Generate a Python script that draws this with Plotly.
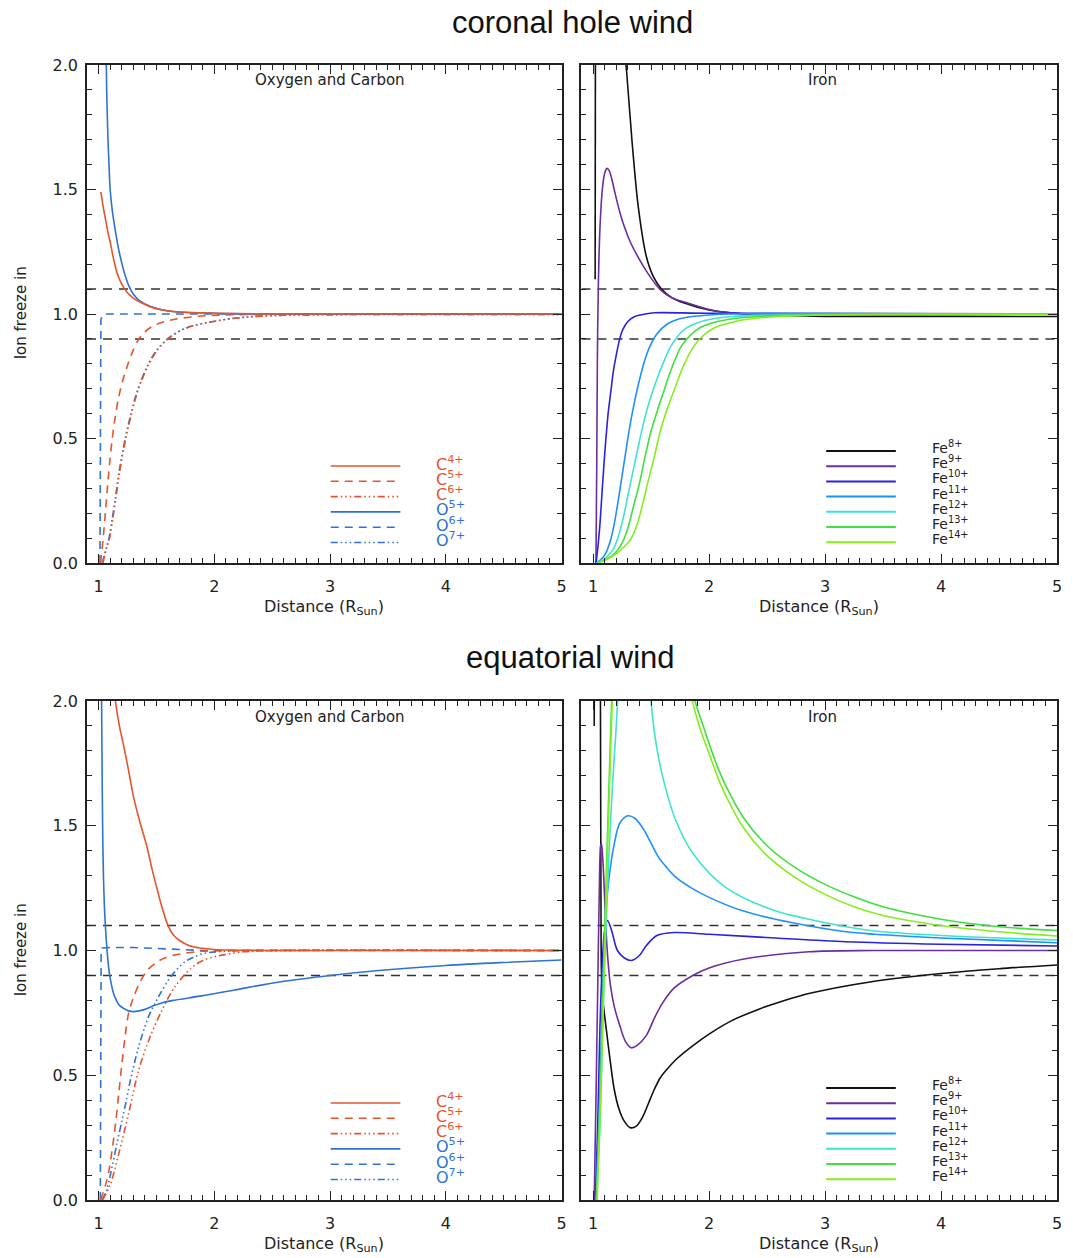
import plotly.graph_objects as go

# ---------------- data ----------------
X_RANGE = [0.9, 5.0]
Y_RANGE = [0.0, 2.0]
X_TICK0, X_DTICK = 1, 1
Y_TICK0, Y_DTICK = 0.0, 0.5
THRESHOLDS = [0.9, 1.1]

OC_LABELS = ["C<sup>4+</sup>", "C<sup>5+</sup>", "C<sup>6+</sup>",
             "O<sup>5+</sup>", "O<sup>6+</sup>", "O<sup>7+</sup>"]
FE_LABELS = ["Fe<sup>8+</sup>", "Fe<sup>9+</sup>", "Fe<sup>10+</sup>", "Fe<sup>11+</sup>",
             "Fe<sup>12+</sup>", "Fe<sup>13+</sup>", "Fe<sup>14+</sup>"]

# --- coronal hole wind: oxygen and carbon ---
CH_C4_X = [1.02, 1.04, 1.06, 1.08, 1.10, 1.13, 1.16, 1.20, 1.25, 1.30, 1.37, 1.45, 1.55, 1.70, 2.0, 2.5, 5.0]
CH_C4_Y = [1.49, 1.43, 1.38, 1.33, 1.29, 1.22, 1.165, 1.12, 1.085, 1.064, 1.045, 1.028, 1.016, 1.008, 1.003, 1.0, 1.0]
CH_C5_X = [1.017, 1.04, 1.06, 1.075, 1.095, 1.117, 1.145, 1.175, 1.21, 1.246, 1.29, 1.346, 1.40, 1.46, 1.55, 1.66, 1.89, 2.3, 5.0]
CH_C5_Y = [0.0, 0.10, 0.21, 0.293, 0.40, 0.494, 0.59, 0.668, 0.735, 0.788, 0.845, 0.898, 0.928, 0.949, 0.967, 0.979, 0.992, 0.998, 1.0]
CH_C6_X = [1.037, 1.07, 1.095, 1.12, 1.15, 1.18, 1.235, 1.28, 1.325, 1.37, 1.425, 1.50, 1.60, 1.75, 1.98, 2.26, 2.6, 5.0]
CH_C6_Y = [0.0, 0.06, 0.10, 0.17, 0.26, 0.36, 0.50, 0.59, 0.67, 0.73, 0.79, 0.85, 0.90, 0.942, 0.969, 0.987, 0.995, 0.998]
CH_O5_X = [1.055, 1.065, 1.07, 1.08, 1.09, 1.10, 1.12, 1.15, 1.18, 1.22, 1.26, 1.30, 1.35, 1.45, 1.6, 2.0, 5.0]
CH_O5_Y = [2.3, 2.05, 1.9, 1.72, 1.6, 1.50, 1.41, 1.32, 1.245, 1.17, 1.115, 1.08, 1.055, 1.03, 1.012, 1.003, 1.0]
CH_O6_X = [1.012, 1.013, 1.015, 1.02, 1.03, 1.05, 5.0]
CH_O6_Y = [0.0, 0.5, 0.9, 0.975, 0.995, 1.0, 1.0]
CH_O7_X = [1.032, 1.065, 1.09, 1.115, 1.145, 1.175, 1.23, 1.275, 1.32, 1.365, 1.42, 1.495, 1.595, 1.745, 1.975, 2.255, 2.6, 5.0]
CH_O7_Y = [0.0, 0.06, 0.10, 0.17, 0.26, 0.36, 0.50, 0.59, 0.67, 0.73, 0.79, 0.85, 0.90, 0.942, 0.969, 0.987, 0.995, 0.998]

# --- coronal hole wind: iron ---
CH_FE8_X = [1.018, 1.021, None, 1.262, 1.29, 1.335, 1.39, 1.46, 1.52, 1.59, 1.68, 1.78, 2.0, 2.3, 2.6, 3.0, 5.0]
CH_FE8_Y = [1.14, 2.3, None, 2.1, 1.97, 1.70, 1.43, 1.23, 1.15, 1.10, 1.065, 1.045, 1.016, 1.0, 0.994, 0.99, 0.99]
CH_FE9_X = [1.025, 1.032, 1.037, 1.045, 1.06, 1.08, 1.10, 1.12, 1.14, 1.16, 1.18, 1.20, 1.23, 1.27, 1.32, 1.38, 1.47,
            1.575, 1.68, 1.81, 2.06, 2.4, 5.0]
CH_FE9_Y = [0.0, 0.4, 0.8, 1.1, 1.35, 1.50, 1.565, 1.585, 1.575, 1.545, 1.505, 1.465, 1.41, 1.35, 1.29, 1.235, 1.165,
            1.10, 1.065, 1.045, 1.012, 1.0, 1.0]
CH_FE10_X = [1.026, 1.045, 1.06, 1.07, 1.09, 1.11, 1.13, 1.155, 1.175, 1.2, 1.23, 1.255, 1.3, 1.355, 1.45, 1.53, 2.0, 5.0]
CH_FE10_Y = [0.0, 0.08, 0.16, 0.23, 0.37, 0.494, 0.60, 0.695, 0.77, 0.835, 0.90, 0.936, 0.97, 0.989, 1.0, 1.005, 1.003, 1.0]
CH_FE11_X = [1.03, 1.07, 1.11, 1.15, 1.18, 1.21, 1.24, 1.28, 1.31, 1.35, 1.40, 1.45, 1.49, 1.55, 1.64, 1.74, 1.84, 2.0, 2.18, 5.0]
CH_FE11_Y = [0.0, 0.015, 0.04, 0.09, 0.15, 0.23, 0.32, 0.44, 0.53, 0.63, 0.735, 0.82, 0.87, 0.92, 0.96, 0.98, 0.989, 0.996, 1.0, 1.0]
CH_FE12_X = [1.03, 1.08, 1.13, 1.18, 1.22, 1.26, 1.30, 1.35, 1.40, 1.45, 1.50, 1.56, 1.62, 1.67, 1.72, 1.80, 1.90, 2.05, 2.2, 2.6, 5.0]
CH_FE12_Y = [0.0, 0.01, 0.03, 0.06, 0.11, 0.18, 0.27, 0.38, 0.49, 0.59, 0.67, 0.75, 0.82, 0.87, 0.905, 0.942, 0.965, 0.982, 0.99, 0.997, 0.999]
CH_FE13_X = [1.035, 1.09, 1.15, 1.20, 1.25, 1.30, 1.35, 1.40, 1.45, 1.50, 1.56, 1.61, 1.66, 1.71, 1.76, 1.84, 1.92, 2.01, 2.15, 2.33, 2.8, 5.0]
CH_FE13_Y = [0.0, 0.01, 0.025, 0.045, 0.08, 0.14, 0.23, 0.32, 0.43, 0.53, 0.62, 0.69, 0.76, 0.82, 0.87, 0.915, 0.945, 0.962, 0.977, 0.987, 0.996, 0.999]
CH_FE14_X = [1.04, 1.10, 1.16, 1.22, 1.28, 1.33, 1.38, 1.43, 1.47, 1.53, 1.58, 1.64, 1.70, 1.76, 1.83, 1.90, 1.98, 2.06, 2.16, 2.3, 2.5, 3.0, 5.0]
CH_FE14_Y = [0.0, 0.01, 0.025, 0.045, 0.07, 0.10, 0.155, 0.24, 0.32, 0.43, 0.53, 0.62, 0.695, 0.77, 0.84, 0.89, 0.925, 0.948, 0.962, 0.977, 0.987, 0.996, 0.999]

# --- equatorial wind: oxygen and carbon ---
EQ_C4_X = [1.12, 1.146, 1.18, 1.217, 1.26, 1.30, 1.36, 1.418, 1.46, 1.50, 1.55, 1.60, 1.65, 1.70, 1.78, 1.875, 2.0, 2.5, 5.0]
EQ_C4_Y = [2.2, 2.0, 1.90, 1.82, 1.72, 1.62, 1.51, 1.416, 1.33, 1.256, 1.17, 1.10, 1.06, 1.04, 1.02, 1.01, 1.004, 1.0, 1.0]
EQ_C5_X = [1.017, 1.06, 1.09, 1.117, 1.15, 1.175, 1.20, 1.23, 1.26, 1.30, 1.36, 1.42, 1.49, 1.57, 1.66, 1.89, 2.2, 5.0]
EQ_C5_Y = [0.0, 0.06, 0.12, 0.20, 0.32, 0.43, 0.54, 0.66, 0.75, 0.81, 0.875, 0.92, 0.949, 0.97, 0.982, 0.997, 1.0, 1.0]
EQ_C6_X = [1.034, 1.10, 1.175, 1.26, 1.346, 1.446, 1.547, 1.66, 1.80, 1.90, 2.03, 2.26, 2.6, 5.0]
EQ_C6_Y = [0.0, 0.06, 0.187, 0.347, 0.52, 0.655, 0.76, 0.855, 0.929, 0.96, 0.978, 0.995, 1.0, 1.0]
EQ_O5_X = [1.022, 1.026, 1.03, 1.035, 1.042, 1.05, 1.06, 1.075, 1.09, 1.103, 1.125, 1.146, 1.18, 1.217, 1.26, 1.303,
           1.35, 1.40, 1.46, 1.518, 1.632, 1.89, 2.176, 2.577, 3.0, 3.42, 4.0, 4.5, 5.0]
EQ_O5_Y = [2.2, 2.0, 1.75, 1.5, 1.3, 1.18, 1.09, 0.99, 0.92, 0.882, 0.835, 0.808, 0.78, 0.768, 0.758, 0.755,
           0.758, 0.764, 0.776, 0.786, 0.799, 0.818, 0.842, 0.875, 0.90, 0.92, 0.94, 0.952, 0.962]
EQ_O6_X = [1.015, 1.016, 1.018, 1.022, 1.03, 1.1, 1.3, 1.46, 1.6, 1.75, 1.89, 5.0]
EQ_O6_Y = [0.0, 0.5, 0.9, 1.0, 1.01, 1.012, 1.012, 1.01, 1.006, 1.003, 1.0, 1.0]
EQ_O7_X = [1.03, 1.07, 1.117, 1.16, 1.203, 1.24, 1.275, 1.346, 1.432, 1.518, 1.632, 1.747, 1.83, 1.918, 2.1, 2.5, 5.0]
EQ_O7_Y = [0.0, 0.04, 0.134, 0.23, 0.32, 0.40, 0.48, 0.614, 0.735, 0.815, 0.90, 0.955, 0.975, 0.989, 0.997, 1.0, 1.0]

# --- equatorial wind: iron ---
EQ_FE8_X = [1.01, 1.013, None, 1.062, 1.066, 1.069, 1.073, 1.085, 1.11, 1.15, 1.18, 1.22, 1.27, 1.32, 1.37, 1.43,
            1.48, 1.53, 1.58, 1.64, 1.72, 1.85, 2.0, 2.2, 2.43, 2.65, 2.86, 3.18, 3.5, 4.0, 4.5, 5.0]
EQ_FE8_Y = [1.90, 2.3, None, 2.3, 1.6, 1.1, 0.9, 0.80, 0.70, 0.55, 0.45, 0.37, 0.315, 0.29, 0.295, 0.335,
            0.39, 0.445, 0.49, 0.525, 0.565, 0.615, 0.665, 0.72, 0.765, 0.80, 0.828, 0.858, 0.882, 0.908, 0.927, 0.942]
EQ_FE9_X = [1.01, 1.025, 1.04, 1.054, 1.065, 1.072, 1.085, 1.097, 1.11, 1.126, 1.15, 1.183, 1.23, 1.28, 1.33, 1.38,
            1.46, 1.53, 1.60, 1.70, 1.86, 2.0, 2.29, 2.86, 3.43, 5.0]
EQ_FE9_Y = [0.0, 0.4, 0.84, 1.24, 1.42, 1.43, 1.36, 1.24, 1.10, 0.975, 0.86, 0.775, 0.70, 0.635, 0.61, 0.62,
            0.66, 0.73, 0.79, 0.85, 0.90, 0.93, 0.965, 0.995, 1.0, 1.0]
EQ_FE10_X = [1.02, 1.04, 1.06, 1.08, 1.10, 1.125, 1.16, 1.21, 1.27, 1.33, 1.40, 1.46, 1.55, 1.70, 2.0, 2.57, 3.18, 4.0, 5.0]
EQ_FE10_Y = [0.0, 0.3, 0.7, 0.95, 1.08, 1.12, 1.08, 1.0, 0.97, 0.96, 0.98, 1.02, 1.06, 1.072, 1.065, 1.05, 1.035, 1.025, 1.018]
EQ_FE11_X = [1.025, 1.05, 1.07, 1.09, 1.11, 1.14, 1.18, 1.23, 1.30, 1.36, 1.43, 1.50, 1.57, 1.64, 1.71, 1.85, 2.0,
             2.29, 2.71, 3.18, 3.43, 4.0, 5.0]
EQ_FE11_Y = [0.0, 0.3, 0.65, 0.95, 1.15, 1.30, 1.42, 1.51, 1.54, 1.53, 1.49, 1.43, 1.37, 1.33, 1.295, 1.25, 1.213,
             1.159, 1.112, 1.075, 1.065, 1.05, 1.031]
EQ_FE12_X = [1.03, 1.06, 1.09, 1.12, 1.16, 1.20, 1.23, None, 1.48, 1.50, 1.53, 1.57, 1.62, 1.71, 1.86, 2.14, 2.57,
             3.0, 3.18, 3.43, 4.0, 5.0]
EQ_FE12_Y = [0.0, 0.3, 0.8, 1.2, 1.6, 1.9, 2.15, None, 2.2, 2.0, 1.87, 1.76, 1.66, 1.525, 1.39, 1.254, 1.159,
             1.112, 1.095, 1.078, 1.06, 1.042]
EQ_FE13_X = [1.03, 1.06, 1.09, 1.12, 1.15, 1.175, None, 1.85, 1.88, 1.95, 2.0, 2.07, 2.14, 2.3, 2.5, 2.75, 3.0, 3.25,
             3.5, 4.0, 4.5, 5.0]
EQ_FE13_Y = [0.0, 0.4, 0.9, 1.4, 1.85, 2.2, None, 2.1, 2.0, 1.90, 1.83, 1.74, 1.665, 1.53, 1.42, 1.33, 1.265, 1.215,
             1.175, 1.125, 1.095, 1.08]
EQ_FE14_X = [1.035, 1.065, 1.095, 1.125, 1.155, 1.18, None, 1.83, 1.857, 1.93, 2.0, 2.07, 2.14, 2.3, 2.5, 2.75, 3.0,
             3.25, 3.5, 4.0, 4.5, 5.0]
EQ_FE14_Y = [0.0, 0.4, 0.9, 1.4, 1.85, 2.2, None, 2.1, 2.0, 1.88, 1.79, 1.70, 1.625, 1.49, 1.38, 1.29, 1.225,
             1.175, 1.14, 1.10, 1.075, 1.058]

# ---------------- styling ----------------
C_COL = "#E5552B"
O_COL = "#2F72D6"
FE_COLS = ["#111111", "#6B2E9E", "#2B22E0", "#1E90FF", "#3FE3CF", "#3FE03F", "#86EE1E"]
DASH = "8px,6px"
DDD = "7px,3px,1.5px,3px,1.5px,3px,1.5px,3px"
OC_STYLES = [(C_COL, "solid"), (C_COL, DASH), (C_COL, DDD), (O_COL, "solid"), (O_COL, DASH), (O_COL, DDD)]
LW = 1.6

W, H = 1073, 1258
ML, MR, MT, MB = 87, 11, 65, 58
PW, PH = W - ML - MR, H - MT - MB


def px(xp):
    return (xp - ML) / PW


def py(yp):
    return (H - MB - yp) / PH


FONT = "DejaVu Sans"
fig = go.Figure()

panels = [
    ("x", "y", [(CH_C4_X, CH_C4_Y), (CH_C5_X, CH_C5_Y), (CH_C6_X, CH_C6_Y),
                (CH_O5_X, CH_O5_Y), (CH_O6_X, CH_O6_Y), (CH_O7_X, CH_O7_Y)], "oc"),
    ("x2", "y2", [(CH_FE8_X, CH_FE8_Y), (CH_FE9_X, CH_FE9_Y), (CH_FE10_X, CH_FE10_Y), (CH_FE11_X, CH_FE11_Y),
                  (CH_FE12_X, CH_FE12_Y), (CH_FE13_X, CH_FE13_Y), (CH_FE14_X, CH_FE14_Y)], "fe"),
    ("x3", "y3", [(EQ_C4_X, EQ_C4_Y), (EQ_C5_X, EQ_C5_Y), (EQ_C6_X, EQ_C6_Y),
                  (EQ_O5_X, EQ_O5_Y), (EQ_O6_X, EQ_O6_Y), (EQ_O7_X, EQ_O7_Y)], "oc"),
    ("x4", "y4", [(EQ_FE8_X, EQ_FE8_Y), (EQ_FE9_X, EQ_FE9_Y), (EQ_FE10_X, EQ_FE10_Y), (EQ_FE11_X, EQ_FE11_Y),
                  (EQ_FE12_X, EQ_FE12_Y), (EQ_FE13_X, EQ_FE13_Y), (EQ_FE14_X, EQ_FE14_Y)], "fe"),
]

for xa, ya, series, kind in panels:
    for t in THRESHOLDS:
        fig.add_trace(go.Scatter(x=X_RANGE, y=[t, t], mode="lines", xaxis=xa, yaxis=ya, showlegend=False,
                                 line=dict(color="#333333", width=1.5, dash="9px,7px"), hoverinfo="skip"))
    order = list(range(len(series)))
    if kind == "oc":
        order = [4, 5, 2, 1, 3, 0]
    for i in order:
        xs, ys = series[i]
        if kind == "oc":
            col, dash = OC_STYLES[i]
        else:
            col, dash = FE_COLS[i], "solid"
        sharp = (kind == "oc" and i == 4)
        fig.add_trace(go.Scatter(x=xs, y=ys, mode="lines", xaxis=xa, yaxis=ya, showlegend=False,
                                 line=dict(color=col, width=LW, dash=dash,
                                           shape="linear" if sharp else "spline",
                                           smoothing=0 if sharp else 0.9)))

tick_common = dict(ticks="inside", ticklen=9, tickwidth=1.2,
                   showline=True, linecolor="#222222", linewidth=1.5, mirror="ticks", showgrid=False,
                   zeroline=False, tickcolor="#222222",
                   tickfont=dict(family=FONT, size=16, color="#222222"))
axis_common = dict(range=X_RANGE, tickmode="linear", tick0=X_TICK0, dtick=X_DTICK, ticklabelstandoff=8,
                   minor=dict(tickmode="linear", tick0=0.9, dtick=0.1, ticks="inside", ticklen=5,
                              tickcolor="#222222", tickwidth=1, showgrid=False),
                   **tick_common)
yaxis_common = dict(range=Y_RANGE, tickmode="linear", tick0=Y_TICK0, dtick=Y_DTICK, tickformat=".1f",
                    ticklabelstandoff=4,
                    minor=dict(tickmode="linear", tick0=0.0, dtick=0.1, ticks="inside", ticklen=5,
                               tickcolor="#222222", tickwidth=1, showgrid=False),
                    **tick_common)

xl = [px(87), px(564)]
xr = [px(584), px(1062)]
yt = [py(563), py(65)]
yb = [py(1200), py(701)]

fig.update_layout(
    width=W, height=H, autosize=False,
    margin=dict(l=ML, r=MR, t=MT, b=MB),
    paper_bgcolor="white", plot_bgcolor="white",
    showlegend=False,
    xaxis=dict(domain=xl, anchor="y", **axis_common),
    yaxis=dict(domain=yt, anchor="x", **yaxis_common),
    xaxis2=dict(domain=xr, anchor="y2", **axis_common),
    yaxis2=dict(domain=yt, anchor="x2", showticklabels=False, **yaxis_common),
    xaxis3=dict(domain=xl, anchor="y3", **axis_common),
    yaxis3=dict(domain=yb, anchor="x3", **yaxis_common),
    xaxis4=dict(domain=xr, anchor="y4", **axis_common),
    yaxis4=dict(domain=yb, anchor="x4", showticklabels=False, **yaxis_common),
)

ann = []
shapes = []


def text(xp, yp, s, size, color="#222222", xanchor="center", yanchor="middle", angle=0, family=FONT):
    ann.append(dict(x=px(xp), y=py(yp), xref="paper", yref="paper", text=s, showarrow=False,
                    xanchor=xanchor, yanchor=yanchor, textangle=angle,
                    font=dict(family=family, size=size, color=color)))


# titles
text(575, 22, "coronal hole wind", 31, color="#111111", family="Liberation Sans")
text(573, 657, "equatorial wind", 31, color="#111111", family="Liberation Sans")

for dy in (0, 637):
    text(331, 80 + dy, "Oxygen and Carbon", 15)
    text(826, 80 + dy, "Iron", 15)
    text(21, 313 + dy, "Ion freeze in", 15, angle=-90)
    text(325, 607 + dy, "Distance (R<sub>Sun</sub>)", 16)
    text(823, 607 + dy, "Distance (R<sub>Sun</sub>)", 16)

    # O / C legend
    for i, lab in enumerate(OC_LABELS):
        ly = 466 + 15.3 * i + dy
        col, dash = OC_STYLES[i]
        shapes.append(dict(type="line", xref="paper", yref="paper", x0=px(332), x1=px(402), y0=py(ly), y1=py(ly),
                           line=dict(color=col, width=LW, dash=dash)))
        text(436, ly - 3, lab, 16, color=col, xanchor="left")
    # Fe legend
    for i, lab in enumerate(FE_LABELS):
        ly = 451 + 15.2 * i + dy
        shapes.append(dict(type="line", xref="paper", yref="paper", x0=px(830), x1=px(900), y0=py(ly), y1=py(ly),
                           line=dict(color=FE_COLS[i], width=2)))
        text(934, ly - 4, lab, 14, color="#222222", xanchor="left")

fig.update_layout(annotations=ann, shapes=shapes)
fig.write_html("out.html")
